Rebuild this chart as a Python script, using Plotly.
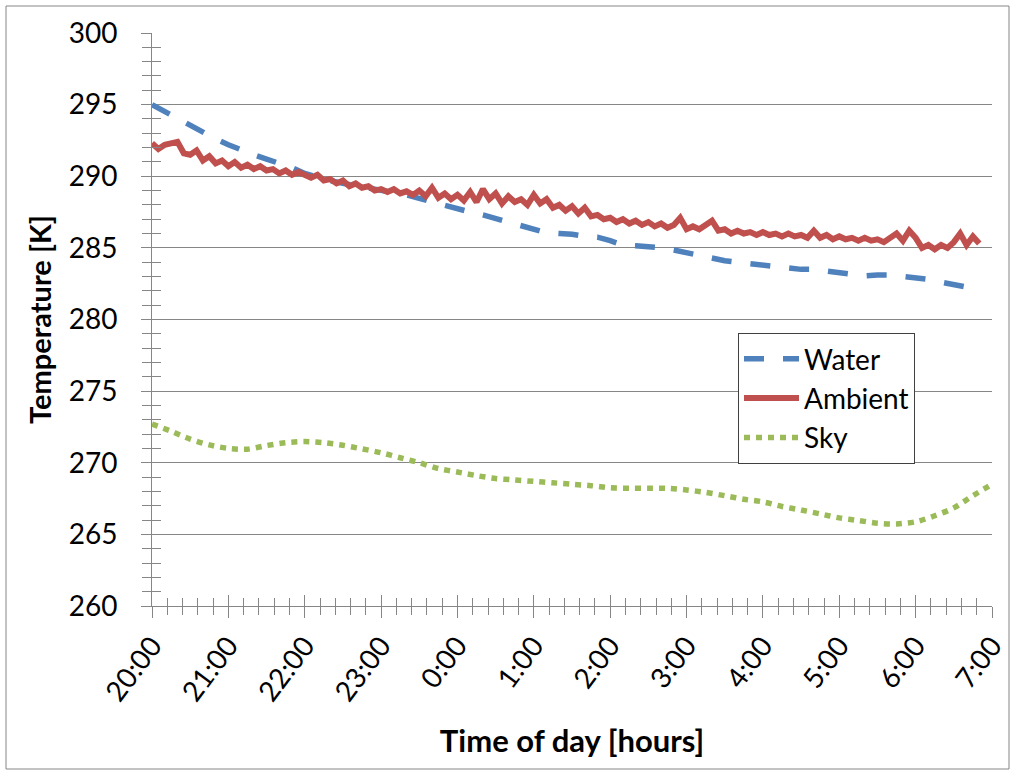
import plotly.graph_objects as go

# ---------------- data ----------------
hour_labels = ["20:00", "21:00", "22:00", "23:00", "0:00", "1:00", "2:00",
               "3:00", "4:00", "5:00", "6:00", "7:00"]

# Water: every 10 minutes from 20:00 (minutes since 20:00)
water_minutes = list(range(0, 660, 10))
water_temp = [295.0, 294.5, 294.0, 293.5, 293.1, 292.6, 292.2, 291.8, 291.5, 291.2,
              290.95, 290.6, 290.2, 289.9, 289.7, 289.5, 289.35, 289.15, 289.0, 288.85,
              288.7, 288.45, 288.2, 288.0, 287.75, 287.5, 287.3, 287.05, 286.8, 286.5,
              286.3, 286.05, 286.0, 285.95, 285.8, 285.75, 285.5, 285.2, 285.15, 285.1,
              285.0, 284.85, 284.65, 284.45, 284.25, 284.1, 284.0, 283.9, 283.8, 283.65,
              283.55, 283.5, 283.5, 283.4, 283.3, 283.15, 283.05, 283.1, 283.1, 283.0,
              282.9, 282.8, 282.6, 282.45, 282.3, 282.1]

# Ambient: every 5 minutes from 20:00
ambient_minutes = list(range(0, 655, 5))
ambient_temp = [
    292.3, 291.9, 292.2, 292.3, 292.4, 291.6, 291.5, 291.8, 291.1, 291.4, 290.9, 291.1,
    290.7, 291.0, 290.6, 290.8, 290.5, 290.7, 290.4, 290.5, 290.2, 290.4, 290.1, 290.3,
    290.1, 289.9, 290.1, 289.7, 289.8, 289.5, 289.7, 289.3, 289.5, 289.2, 289.3, 289.0,
    289.1, 288.9, 289.1, 288.8, 288.95, 288.7, 289.0, 288.6, 289.2, 288.5, 288.8, 288.4,
    288.7, 288.3, 288.9, 288.2, 289.1, 288.4, 288.8, 288.1, 288.6, 288.2, 288.4, 288.0,
    288.7, 288.1, 288.4, 287.8, 288.0, 287.6, 287.9, 287.4, 287.8, 287.2, 287.3, 287.0,
    287.1, 286.8, 287.0, 286.7, 286.9, 286.6, 286.8, 286.5, 286.7, 286.4, 286.6, 287.1,
    286.3, 286.5, 286.3, 286.6, 286.9, 286.2, 286.3, 286.0, 286.2, 286.0, 286.1, 285.9,
    286.1, 285.9, 286.0, 285.8, 286.0, 285.8, 285.9, 285.7, 286.2, 285.7, 285.9, 285.6,
    285.8, 285.6, 285.7, 285.5, 285.7, 285.5, 285.6, 285.4, 285.7, 286.0, 285.5, 286.2,
    285.7, 285.0, 285.2, 284.9, 285.2, 285.0, 285.4, 286.0, 285.2, 285.8, 285.3]

# Sky: every 15 minutes from 20:00
sky_minutes = list(range(0, 675, 15))
sky_temp = [272.7, 272.2, 271.65, 271.25, 271.0, 270.95, 271.2, 271.4, 271.48, 271.4,
            271.22, 270.97, 270.7, 270.35, 270.0, 269.6, 269.35, 269.1, 268.9, 268.8,
            268.7, 268.6, 268.5, 268.4, 268.25, 268.22, 268.22, 268.22, 268.1, 267.93,
            267.7, 267.45, 267.27, 266.95, 266.7, 266.43, 266.15, 265.97, 265.78, 265.73,
            265.88, 266.3, 266.85, 267.7, 268.5]

def to_hours(mins):
    return [m / 60.0 for m in mins]

# ---------------- figure ----------------
FONT = "Lato, 'Open Sans', sans-serif"
AX = "#868686"

fig = go.Figure()
fig.add_trace(go.Scatter(x=to_hours(water_minutes), y=water_temp, mode="lines", name="Water",
                         line=dict(color="#4F81BD", width=5.5, dash="20px,19px")))
fig.add_trace(go.Scatter(x=to_hours(ambient_minutes), y=ambient_temp, mode="lines", name="Ambient",
                         line=dict(color="#C0504D", width=6)))
fig.add_trace(go.Scatter(x=to_hours(sky_minutes), y=sky_temp, mode="lines", name="Sky",
                         line=dict(color="#9BBB59", width=5.5, dash="6px,6px", shape="spline", smoothing=0.8)))
# helper trace for the inner half of the crossing tick marks
fig.add_trace(go.Scatter(x=[], y=[], xaxis="x2", yaxis="y2", showlegend=False, hoverinfo="skip"))

W, H = 1016, 776
L, R, T, B = 152, 24, 33, 170
pw, ph = W - L - R, H - T - B

def px2paper_x(px):
    return (px - L) / pw

def px2paper_y(py):
    return (H - B - py) / ph

fig.update_layout(
    width=W, height=H,
    margin=dict(l=L, r=R, t=T, b=B, autoexpand=False),
    paper_bgcolor="white", plot_bgcolor="white",
    font=dict(family=FONT, size=28, color="#000000"),
    showlegend=True,
    legend=dict(x=px2paper_x(738), y=px2paper_y(333), xanchor="left", yanchor="top",
                bgcolor="white", bordercolor="#404040", borderwidth=1,
                font=dict(family=FONT, size=28, color="#000000"),
                itemwidth=55, tracegroupgap=0),
    xaxis=dict(
        range=[0, 11], tickmode="array", tickvals=list(range(12)), ticktext=hour_labels,
        tickangle=-53, showgrid=False, zeroline=False,
        showline=True, linecolor=AX, linewidth=1,
        ticks="outside", ticklen=11, tickcolor=AX, tickwidth=1,
        minor=dict(dtick=0.2, tick0=0, ticks="outside", ticklen=8, tickcolor=AX, showgrid=False),
        tickfont=dict(family=FONT, size=28, color="#000000"),
        title=dict(text="<b>Time of day [hours]</b>", font=dict(family=FONT, size=31, color="#000000"),
                   standoff=24),
        automargin=False, fixedrange=True,
    ),
    yaxis=dict(
        range=[260, 300], tickmode="linear", tick0=260, dtick=5,
        showgrid=True, gridcolor=AX, gridwidth=1, zeroline=False,
        showline=True, linecolor=AX, linewidth=1,
        ticks="outside", ticklen=10, tickcolor=AX, tickwidth=1,
        minor=dict(dtick=1, tick0=260, ticks="outside", ticklen=9, tickcolor=AX, showgrid=False),
        tickfont=dict(family=FONT, size=28, color="#000000"),
        ticklabelstandoff=18,
        title=dict(text="<b>Temperature [K]</b>", font=dict(family=FONT, size=29, color="#000000"),
                   standoff=8),
        automargin=False, fixedrange=True,
    ),
    xaxis2=dict(
        overlaying="x", anchor="y", side="bottom", range=[0, 11],
        tickmode="array", tickvals=list(range(12)), showticklabels=False,
        showgrid=False, zeroline=False, showline=False,
        ticks="inside", ticklen=11, tickcolor=AX, tickwidth=1,
        minor=dict(dtick=0.2, tick0=0, ticks="inside", ticklen=8, tickcolor=AX, showgrid=False),
        fixedrange=True,
    ),
    yaxis2=dict(
        overlaying="y", anchor="x", side="left", range=[260, 300],
        tickmode="linear", tick0=260, dtick=5, showticklabels=False,
        showgrid=False, zeroline=False, showline=False,
        ticks="inside", ticklen=0, tickcolor=AX, tickwidth=1,
        minor=dict(dtick=1, tick0=260, ticks="inside", ticklen=9, tickcolor=AX, showgrid=False),
        fixedrange=True,
    ),
    shapes=[dict(type="rect", xref="paper", yref="paper",
                 x0=px2paper_x(6), x1=px2paper_x(1009), y0=px2paper_y(769), y1=px2paper_y(6),
                 line=dict(color="#868686", width=1), fillcolor="rgba(0,0,0,0)", layer="below")],
)

fig.write_html("out.html")
